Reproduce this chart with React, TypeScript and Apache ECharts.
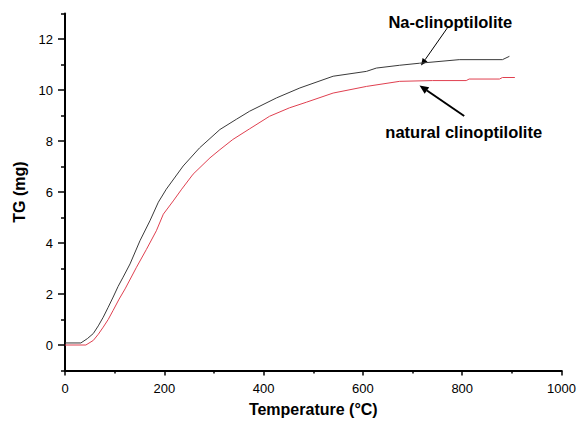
import React, { useEffect, useRef } from "react";
import * as echarts from "echarts";

const naTemps = [0, 32, 45, 57, 67, 77, 87, 97, 107, 117, 131, 151, 171, 188, 204, 238, 271, 312, 345, 372, 426, 473, 540, 607, 627, 674, 714, 794, 881, 895];
const naValues = [0.08, 0.08, 0.25, 0.45, 0.75, 1.09, 1.48, 1.88, 2.3, 2.66, 3.18, 4.09, 4.87, 5.6, 6.11, 7.02, 7.73, 8.45, 8.85, 9.17, 9.69, 10.08, 10.54, 10.73, 10.86, 10.97, 11.05, 11.19, 11.19, 11.32];

const natTemps = [0, 42, 57, 67, 77, 87, 97, 109, 121, 144, 164, 184, 198, 218, 235, 258, 292, 312, 338, 372, 412, 452, 486, 540, 607, 674, 740, 808, 814, 875, 881, 906];
const natValues = [0, 0, 0.18, 0.42, 0.7, 1.0, 1.36, 1.8, 2.2, 3.05, 3.75, 4.48, 5.13, 5.65, 6.11, 6.7, 7.34, 7.66, 8.06, 8.48, 8.97, 9.3, 9.52, 9.88, 10.14, 10.34, 10.37, 10.37, 10.43, 10.43, 10.49, 10.49];

const yMajorTicks = [0, 2, 4, 6, 8, 10, 12];
const yMinorTicks = [-1, 1, 3, 5, 7, 9, 11, 13];

const naLabel = "Na-clinoptilolite";
const natLabel = "natural clinoptilolite";

const FONT = "'Liberation Sans', Arial, Helvetica, sans-serif";

export default function App() {
  const ref = useRef<HTMLDivElement>(null);
  useEffect(() => {
    if (!ref.current) return;
    const chart = echarts.init(ref.current, null, { renderer: "svg" });
    const axisColor = "#000";
    chart.setOption({
      animation: false,
      backgroundColor: "#fff",
      grid: { left: 65, right: 17, top: 13.5, bottom: 56.5 },
      xAxis: {
        type: "value",
        min: 0,
        max: 1000,
        interval: 200,
        name: "Temperature (°C)",
        nameLocation: "middle",
        nameGap: 31,
        nameTextStyle: { fontFamily: FONT, fontWeight: "bold", fontSize: 16, color: "#000" },
        axisLine: { onZero: false, lineStyle: { color: axisColor, width: 2 } },
        axisTick: { length: 5, lineStyle: { color: axisColor, width: 1.5 } },
        minorTick: { show: true, splitNumber: 2, length: 3, lineStyle: { color: axisColor, width: 1.5 } },
        axisLabel: { fontFamily: FONT, fontSize: 13, color: "#000", margin: 11, formatter: (v: number) => String(v) },
        splitLine: { show: false },
      },
      yAxis: [
        {
          type: "value",
          min: -1,
          max: 13,
          position: "left",
          name: "TG (mg)",
          nameLocation: "middle",
          nameGap: 27,
          nameTextStyle: { fontFamily: FONT, fontWeight: "bold", fontSize: 16, color: "#000" },
          axisLine: { show: true, onZero: false, lineStyle: { color: axisColor, width: 2 } },
          axisTick: { show: true, customValues: yMajorTicks, length: 7, lineStyle: { color: axisColor, width: 1.5 } },
          axisLabel: { customValues: yMajorTicks, fontFamily: FONT, fontSize: 13, color: "#000", margin: 12, formatter: (v: number) => String(v) },
          splitLine: { show: false },
        },
        {
          type: "value",
          min: -1,
          max: 13,
          position: "left",
          axisLine: { show: false, onZero: false },
          axisTick: { show: true, customValues: yMinorTicks, length: 4, lineStyle: { color: axisColor, width: 1.5 } },
          axisLabel: { show: false },
          splitLine: { show: false },
        },
      ],
      series: [
        {
          type: "line",
          name: naLabel,
          data: naTemps.map((t, i) => [t, naValues[i]]),
          showSymbol: false,
          lineStyle: { color: "#3a3a3a", width: 1 },
          itemStyle: { color: "#3a3a3a" },
        },
        {
          type: "line",
          name: natLabel,
          data: natTemps.map((t, i) => [t, natValues[i]]),
          showSymbol: false,
          lineStyle: { color: "#e04050", width: 1 },
          itemStyle: { color: "#e04050" },
        },
      ],
    });

    const px = (x: number, y: number) => chart.convertToPixel({ gridIndex: 0 }, [x, y]) as number[];
    const arrow = (from: number[], to: number[], width: number, headLen: number, headHalf: number) => {
      const dx = to[0] - from[0];
      const dy = to[1] - from[1];
      const len = Math.sqrt(dx * dx + dy * dy);
      const ux = dx / len;
      const uy = dy / len;
      const bx = to[0] - ux * headLen;
      const by = to[1] - uy * headLen;
      return [
        {
          type: "line",
          shape: { x1: from[0], y1: from[1], x2: bx, y2: by },
          style: { stroke: "#000", lineWidth: width },
        },
        {
          type: "polygon",
          shape: {
            points: [
              [to[0], to[1]],
              [bx - uy * headHalf, by + ux * headHalf],
              [bx + uy * headHalf, by - ux * headHalf],
            ],
          },
          style: { fill: "#000" },
        },
      ];
    };

    const naText = px(776, 12.66);
    const natText = px(803, 8.36);
    chart.setOption({
      graphic: [
        {
          type: "text",
          x: naText[0],
          y: naText[1],
          style: { text: naLabel, fontFamily: FONT, fontWeight: "bold", fontSize: 16.5, fill: "#000", align: "center", verticalAlign: "middle" },
        },
        {
          type: "text",
          x: natText[0],
          y: natText[1],
          style: { text: natLabel, fontFamily: FONT, fontWeight: "bold", fontSize: 16.5, fill: "#000", align: "center", verticalAlign: "middle" },
        },
        ...arrow(px(772, 12.49), px(717, 10.96), 1, 7, 3),
        ...arrow(px(804, 8.98), px(714, 10.18), 2, 9, 4),
      ],
    });

    return () => chart.dispose();
  }, []);
  return <div ref={ref} style={{ position: "fixed", left: 0, top: 0, width: 579, height: 427 }} />;
}
